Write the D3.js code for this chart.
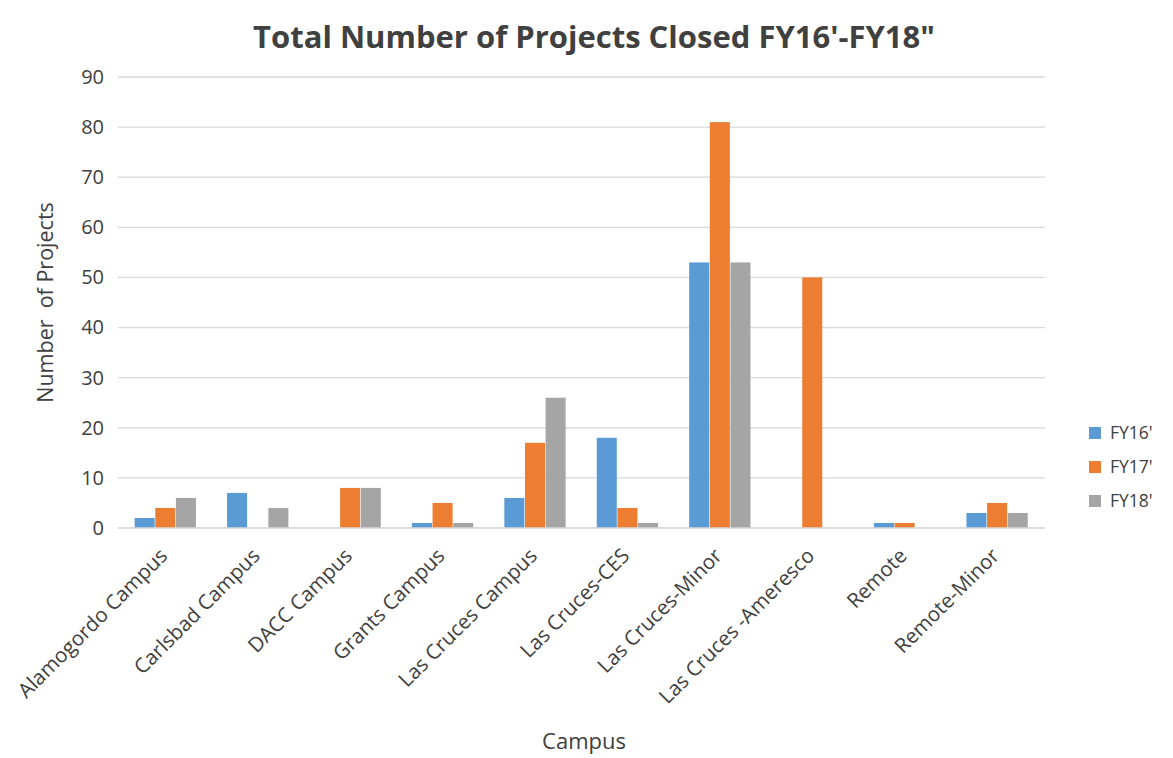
<!DOCTYPE html>
<html>
<head>
<meta charset="utf-8">
<script src="https://cdn.jsdelivr.net/npm/d3@7"></script>
<style>
  body { margin: 0; background: #fff; }
  text { font-family: "Open Sans", "Noto Sans", sans-serif; fill: #404040; }
</style>
</head>
<body>
<div id="chart"></div>
<script>
// data
const campuses = ["Alamogordo Campus", "Carlsbad Campus", "DACC Campus", "Grants Campus",
  "Las Cruces Campus", "Las Cruces-CES", "Las Cruces-Minor", "Las Cruces -Ameresco",
  "Remote", "Remote-Minor"];
const seriesNames = ["FY16'", "FY17'", "FY18'"];
const fy16 = [2, 7, 0, 1, 6, 18, 53, 0, 1, 3];
const fy17 = [4, 0, 8, 5, 17, 4, 81, 50, 1, 5];
const fy18 = [6, 4, 8, 1, 26, 1, 53, 0, 0, 3];
const yTicks = [0, 10, 20, 30, 40, 50, 60, 70, 80, 90];
const colors = ["#5B9BD5", "#ED7D31", "#A5A5A5"];

const width = 1173, height = 758,
      margin = ({ top: 77, right: 128, bottom: 230, left: 118 });

const series = [fy16, fy17, fy18];
const data = campuses.map((c, i) => ({ campus: c, values: series.map(s => s[i]) }));

let svg = d3.select("#chart")
  .append("svg")
  .attr("width", width)
  .attr("height", height);

let x = d3.scaleBand()
  .domain(campuses)
  .range([margin.left, width - margin.right])
  .paddingInner(0.33)
  .paddingOuter(0.18);

let xs = d3.scaleBand()
  .domain(seriesNames)
  .range([0, x.bandwidth()]);

let y = d3.scaleLinear()
  .domain([0, 90])
  .range([height - margin.bottom, margin.top]);

// gridlines
svg.append("g")
  .selectAll("line")
  .data(yTicks)
  .join("line")
  .attr("x1", margin.left)
  .attr("x2", width - margin.right)
  .attr("y1", d => y(d))
  .attr("y2", d => y(d))
  .attr("stroke", "#D9D9D9")
  .attr("stroke-width", 1.3);

// y axis labels
let yAxis = svg.append("g")
  .attr("transform", `translate(${margin.left - 14},0)`)
  .call(d3.axisLeft(y).tickValues(yTicks).tickSize(0).tickPadding(0));
yAxis.select(".domain").remove();
yAxis.selectAll("text")
  .style("font-size", "20px")
  .style("font-family", "'Open Sans', sans-serif")
  .attr("fill", "#404040");

// bars
let group = svg.selectAll(".bar")
  .data(data)
  .join("g")
  .attr("class", "bar")
  .attr("transform", d => `translate(${x(d.campus)},0)`);

group.selectAll("rect")
  .data(d => d.values.map((v, i) => ({ key: seriesNames[i], value: v, i: i })))
  .join("rect")
  .attr("x", d => xs(d.key))
  .attr("width", xs.bandwidth() - 0.6)
  .attr("y", d => y(d.value))
  .attr("height", d => y(0) - y(d.value))
  .attr("fill", d => colors[d.i]);

// x axis
let xAxis = svg.append("g")
  .attr("transform", `translate(0,${height - margin.bottom})`)
  .call(d3.axisBottom(x).tickSize(0).tickPadding(0));
xAxis.select(".domain")
  .attr("d", `M${margin.left},0H${width - margin.right}`)
  .attr("stroke", "#D9D9D9")
  .attr("stroke-width", 1.3);
xAxis.selectAll("text")
  .style("font-size", "20.5px")
  .style("font-family", "'Open Sans', sans-serif")
  .attr("fill", "#404040")
  .attr("text-anchor", "end")
  .attr("dy", "0.35em")
  .attr("transform", "translate(-2,24) rotate(-45)");

// title
svg.append("text")
  .attr("x", 594)
  .attr("y", 48)
  .attr("text-anchor", "middle")
  .style("font-size", "31px")
  .style("font-weight", "bold")
  .attr("fill", "#404040")
  .text("Total Number of Projects Closed FY16'-FY18\"");

// axis titles
svg.append("text")
  .attr("transform", `translate(53,${(y(0) + y(90)) / 2}) rotate(-90)`)
  .attr("text-anchor", "middle")
  .style("font-size", "21.5px")
  .style("white-space", "pre")
  .text("Number  of Projects");

svg.append("text")
  .attr("x", 584)
  .attr("y", 749)
  .attr("text-anchor", "middle")
  .style("font-size", "22px")
  .text("Campus");

// legend
let legend = svg.append("g")
  .selectAll("g")
  .data(seriesNames)
  .join("g")
  .attr("transform", (d, i) => `translate(1089,${433 + i * 34})`);

legend.append("rect")
  .attr("x", 0)
  .attr("y", -6)
  .attr("width", 12)
  .attr("height", 12)
  .attr("fill", (d, i) => colors[i]);

legend.append("text")
  .attr("x", 21)
  .attr("dy", "0.35em")
  .style("font-size", "17.5px")
  .attr("fill", "#404040")
  .text(d => d);
</script>
</body>
</html>
